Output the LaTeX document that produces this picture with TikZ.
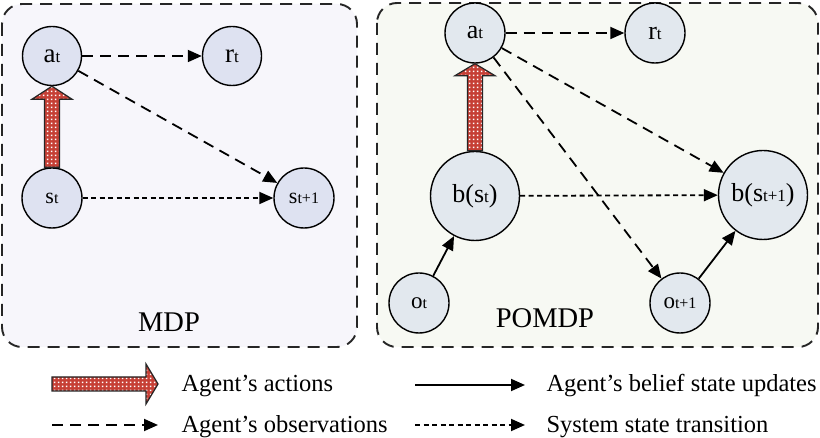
\documentclass[tikz,border=0pt]{standalone}
\usepackage{fontspec}
\setmainfont{Liberation Serif}
\usetikzlibrary{arrows.meta,patterns,calc}
\definecolor{mdpbg}{HTML}{F7F6FB}
\definecolor{pombg}{HTML}{F7F9F3}
\definecolor{mdpnode}{HTML}{DEE2F1}
\definecolor{pomnode}{HTML}{E2E8EE}
\definecolor{actred}{HTML}{C63F35}
\pgfdeclarepatternformonly{whitedots}{\pgfqpoint{0pt}{0pt}}{\pgfqpoint{3.8pt}{3.8pt}}{\pgfqpoint{3.8pt}{3.8pt}}{\pgfpathrectangle{\pgfqpoint{1pt}{1pt}}{\pgfqpoint{1.6pt}{1.6pt}}\pgfusepath{fill}}
\newcommand\nlab[4]{{\fontsize{#1}{#1}\selectfont #3}{\fontsize{#2}{#2}\selectfont #4}}
\begin{document}
\begin{tikzpicture}[x=1pt,y=-1pt,
  every node/.style={font=\fontsize{25}{30}\selectfont},
  mnode/.style={circle,draw=black,line width=1.4pt,fill=mdpnode,inner sep=0pt,minimum size=59pt},
  pnode/.style={circle,draw=black,line width=1.4pt,fill=pomnode,inner sep=0pt,minimum size=60pt},
  bnode/.style={pnode,minimum size=89pt},
  obsarrow/.style={line width=1.8pt,dash pattern=on 11pt off 7pt,-{Triangle[length=14pt,width=12pt]}},
  transarrow/.style={line width=1.8pt,dash pattern=on 5pt off 3.5pt,-{Triangle[length=14pt,width=12pt]}},
  beliefarrow/.style={line width=1.8pt,-{Triangle[length=14pt,width=12pt]}},
  actarrow/.style={draw=black!85,line width=1.2pt,preaction={fill=actred},pattern=whitedots,pattern color=white},
  panel/.style={draw=black!85,line width=1.9pt,dash pattern=on 12pt off 8pt,rounded corners=20pt},
  paneltext/.style={font=\fontsize{28.5}{32}\selectfont},
  legtext/.style={font=\fontsize{24.5}{28}\selectfont,anchor=base west},
]
\useasboundingbox (0,0) rectangle (820,438);
\fill[white] (0,0) rectangle (820,438);

% panels
\draw[panel,fill=mdpbg] (2,4) rectangle (357,347);
\draw[panel,fill=pombg] (377,3) rectangle (818,347);
\node[paneltext] (mdp) at (169,322) {MDP};
\node[paneltext] (pomdp) at (545,318) {POMDP};

% MDP nodes
\node[mnode] (mat) at (52,56) {\nlab{27}{17}{a}{t}};
\node[mnode] (mrt) at (232,56) {\nlab{27}{17}{r}{t}};
\node[mnode,minimum size=60pt] (mst) at (52,198) {\nlab{22}{16}{s}{t}};
\node[mnode,minimum size=60pt] (mst1) at (304,198) {\nlab{22}{16}{s}{t+1}};

\draw[obsarrow] (mat) -- (mrt);
\draw[obsarrow] (mat) -- (mst1);
\draw[transarrow] (mst) -- (mst1);
\draw[actarrow] let \p1=(mst.north), \p2=(mat.south) in
  (\x1-7.5pt,\y1) -- (\x1-7.5pt,\y2-13pt) -- (\x1-20pt,\y2-13pt) -- (\x2,\y2)
  -- (\x1+20pt,\y2-13pt) -- (\x1+7.5pt,\y2-13pt) -- (\x1+7.5pt,\y1) -- cycle;

% POMDP nodes
\node[pnode] (pat) at (475,33) {\nlab{26}{17}{a}{t}};
\node[pnode] (prt) at (655,33) {\nlab{26}{17}{r}{t}};
\node[bnode] (pbs) at (475,196) {\nlab{26}{17}{b(s}{t}{\fontsize{26}{26}\selectfont)}};
\node[bnode] (pbs1) at (763,195) {\nlab{26}{17}{b(s}{t+1}{\fontsize{26}{26}\selectfont)}};
\node[pnode] (pot) at (419,303) {\nlab{23}{16}{o}{t}};
\node[pnode] (pot1) at (680,303) {\nlab{23}{16}{o}{t+1}};

\draw[obsarrow] (pat) -- (prt);
\draw[obsarrow] (pat) -- (pbs1);
\draw[obsarrow] (pat) -- (pot1);
\draw[transarrow] (pbs) -- (pbs1);
\draw[beliefarrow] (pot) -- (pbs);
\draw[beliefarrow] (pot1) -- (pbs1);
\draw[actarrow] let \p1=(pbs.north), \p2=(pat.south) in
  (\x1-7.5pt,\y1) -- (\x1-7.5pt,\y2-12pt) -- (\x1-20pt,\y2-12pt) -- (\x2,\y2)
  -- (\x1+20pt,\y2-12pt) -- (\x1+7.5pt,\y2-12pt) -- (\x1+7.5pt,\y1) -- cycle;

% legend
\coordinate (la1) at (52,384);
\coordinate (la2) at (158,384);
\draw[actarrow] let \p1=(la1), \p2=(la2) in
  (\x1,\y1-7pt) -- (\x2-12pt,\y1-7pt) -- (\x2-12pt,\y1-20pt) -- (\x2,\y1)
  -- (\x2-12pt,\y1+20pt) -- (\x2-12pt,\y1+7pt) -- (\x1,\y1+7pt) -- cycle;
\node[legtext] (l1) at (178,392) {Agent’s actions};

\coordinate (lb1) at (52,425);
\coordinate (lb2) at (158,425);
\draw[obsarrow] (lb1) -- (lb2);
\node[legtext] (l2) at (178,432) {Agent’s observations};

\coordinate (lc1) at (415,385);
\coordinate (lc2) at (525,385);
\draw[beliefarrow] (lc1) -- (lc2);
\node[legtext] (l3) at (543,392) {Agent’s belief state updates};

\coordinate (ld1) at (415,425);
\coordinate (ld2) at (525,425);
\draw[transarrow] (ld1) -- (ld2);
\node[legtext] (l4) at (543,432) {System state transition};
\end{tikzpicture}
\end{document}
